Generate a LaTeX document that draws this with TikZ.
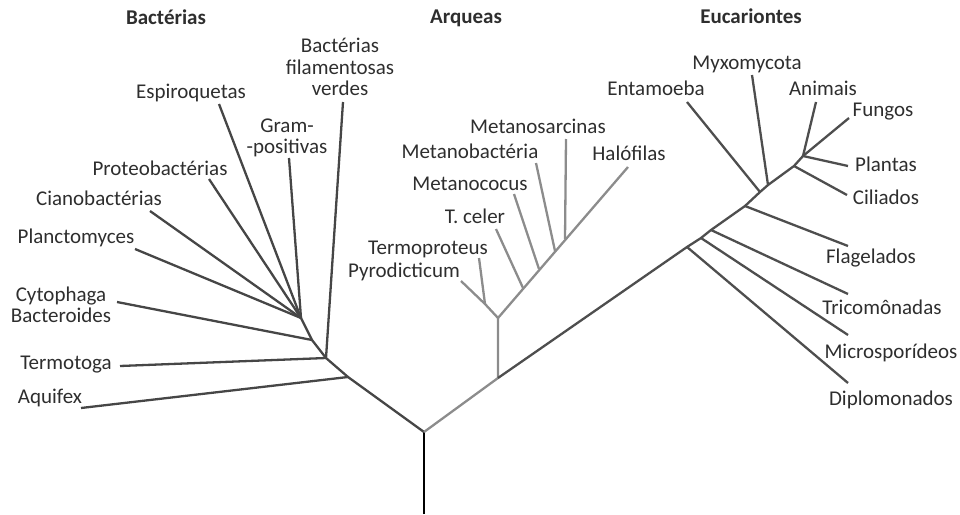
\documentclass[tikz,border=0pt]{standalone}
\usepackage{fontspec}
\setmainfont{Carlito}
\usepackage{xcolor}
\definecolor{treeink}{HTML}{2E2E2E}
\definecolor{bactline}{HTML}{464646}
\definecolor{archline}{HTML}{8C8C8C}
\definecolor{eukline}{HTML}{4E4E4E}

\begin{document}
\begin{tikzpicture}[
  x=1pt,
  y=-1pt,
  every node/.style={font=\fontsize{21}{21.5}\selectfont, treeink, inner sep=0pt},
  clade/.style={font=\fontsize{21}{21.5}\selectfont\bfseries, anchor=base},
  taxon/.style={anchor=base},
  taxa/.style={align=center, anchor=center},
  trunk/.style={black, line width=2.5pt},
  bact/.style={bactline, line width=2.3pt, line join=round},
  arch/.style={archline, line width=2.3pt, line join=round},
  euk/.style={eukline, line width=2.3pt, line join=round}
]
  \useasboundingbox (0,0) rectangle (960,514);

  % ---- clade headings ---------------------------------------------------
  \node[clade] (hbac) at (166,24) {Bactérias};
  \node[clade] (harc) at (466,23) {Arqueas};
  \node[clade] (heuk) at (751,23) {Eucariontes};

  % ---- root -------------------------------------------------------------
  \coordinate (base) at (424,514);
  \coordinate (root) at (424,432);
  \draw[trunk] (base) -- (root);

  % ---- Bacteria: junctions and tips --------------------------------------
  \coordinate (bq) at (348,377);
  \coordinate (bt) at (326,358);
  \coordinate (bc) at (312,340);
  \coordinate (bf) at (301,318);
  \coordinate (taqu) at (81,408);
  \coordinate (tter) at (120,366);
  \coordinate (tcyt) at (117,302);
  \coordinate (tfil) at (343,102);
  \coordinate (tgra) at (289,158);
  \coordinate (tesp) at (219,104);
  \coordinate (tpro) at (209,179);
  \coordinate (tcia) at (150,211);
  \coordinate (tpla) at (135,249);

  \draw[bact] (root) -- (bq) -- (bt) -- (bc) -- (bf);
  \draw[bact] (bq) -- (taqu);
  \draw[bact] (bt) -- (tter);
  \draw[bact] (bt) -- (tfil);
  \draw[bact] (bc) -- (tcyt);
  \draw[bact] (bf) -- (tgra);
  \draw[bact] (bf) -- (tesp);
  \draw[bact] (bf) -- (tpro);
  \draw[bact] (bf) -- (tcia);
  \draw[bact] (bf) -- (tpla);

  \node[taxa] (lfil) at (340,67) {Bactérias\\filamentosas\\verdes};
  \node[taxon] (lesp) at (191,98) {Espiroquetas};
  \node[taxa] (lgra) at (287,138) {Gram-\\-positivas};
  \node[taxon] (lpro) at (160,175) {Proteobactérias};
  \node[taxon] (lcia) at (99,205) {Cianobactérias};
  \node[taxon] (lpla) at (76,243) {Planctomyces};
  \node[taxa] (lcyt) at (61,305) {Cytophaga\\Bacteroides};
  \node[taxon] (lter) at (66,369) {Termotoga};
  \node[taxon] (laqu) at (50,403) {Aquifex};

  % ---- Archaea ----------------------------------------------------------
  \coordinate (a0) at (498,378);
  \coordinate (a1) at (498,318);
  \coordinate (a2) at (485,304);
  \coordinate (ace) at (523,288);
  \coordinate (aco) at (539,269);
  \coordinate (aba) at (555,251);
  \coordinate (asa) at (565,239);
  \coordinate (tpyr) at (461,281);
  \coordinate (ttpr) at (479,258);
  \coordinate (tcel) at (496,229);
  \coordinate (tcoc) at (514,194);
  \coordinate (tmba) at (536,163);
  \coordinate (tmsa) at (566,139);
  \coordinate (thal) at (628,167);

  \draw[arch] (root) -- (a0) -- (a1) -- (a2) -- (tpyr);
  \draw[arch] (a2) -- (ttpr);
  \draw[arch] (a1) -- (thal);
  \draw[arch] (ace) -- (tcel);
  \draw[arch] (aco) -- (tcoc);
  \draw[arch] (aba) -- (tmba);
  \draw[arch] (asa) -- (tmsa);

  \node[taxon] (lmsa) at (538,133) {Metanosarcinas};
  \node[taxon] (lmba) at (470,158) {Metanobactéria};
  \node[taxon] (lhal) at (629,160) {Halófilas};
  \node[taxon] (lcoc) at (470,190) {Metanococus};
  \node[taxon] (lcel) at (475,223) {T. celer};
  \node[taxon] (ltpr) at (428,254) {Termoproteus};
  \node[taxon] (lpyr) at (404,277) {Pyrodicticum};

  % ---- Eukaryotes -------------------------------------------------------
  \coordinate (ed) at (687,247);
  \coordinate (em) at (701,238);
  \coordinate (etr) at (711,230);
  \coordinate (efl) at (745,206);
  \coordinate (een) at (760,192);
  \coordinate (emy) at (768,185);
  \coordinate (eci) at (794,166);
  \coordinate (etop) at (803,156);
  \coordinate (tdip) at (848,383);
  \coordinate (tmic) at (848,335);
  \coordinate (ttri) at (848,294);
  \coordinate (tfla) at (848,246);
  \coordinate (tent) at (687,102);
  \coordinate (tmyx) at (752,75);
  \coordinate (tcil) at (847,195);
  \coordinate (tani) at (816,102);
  \coordinate (tfun) at (849,118);
  \coordinate (tpla2) at (848,166);

  \draw[euk] (a0) -- (ed) -- (em) -- (etr) -- (efl) -- (een) -- (emy) -- (eci) -- (etop);
  \draw[euk] (ed) -- (tdip);
  \draw[euk] (em) -- (tmic);
  \draw[euk] (etr) -- (ttri);
  \draw[euk] (efl) -- (tfla);
  \draw[euk] (een) -- (tent);
  \draw[euk] (emy) -- (tmyx);
  \draw[euk] (eci) -- (tcil);
  \draw[euk] (etop) -- (tani);
  \draw[euk] (etop) -- (tfun);
  \draw[euk] (etop) -- (tpla2);

  \node[taxon] (lmyx) at (747,69) {Myxomycota};
  \node[taxon] (lent) at (656,95) {Entamoeba};
  \node[taxon] (lani) at (823,95) {Animais};
  \node[taxon] (lfun) at (883,116) {Fungos};
  \node[taxon] (lpla2) at (886,171) {Plantas};
  \node[taxon] (lcil) at (886,204) {Ciliados};
  \node[taxon] (lfla) at (871,263) {Flagelados};
  \node[taxon] (ltri) at (882,314) {Tricomônadas};
  \node[taxon] (lmic) at (891,358) {Microsporídeos};
  \node[taxon] (ldip) at (891,405) {Diplomonados};
\end{tikzpicture}
\end{document}
